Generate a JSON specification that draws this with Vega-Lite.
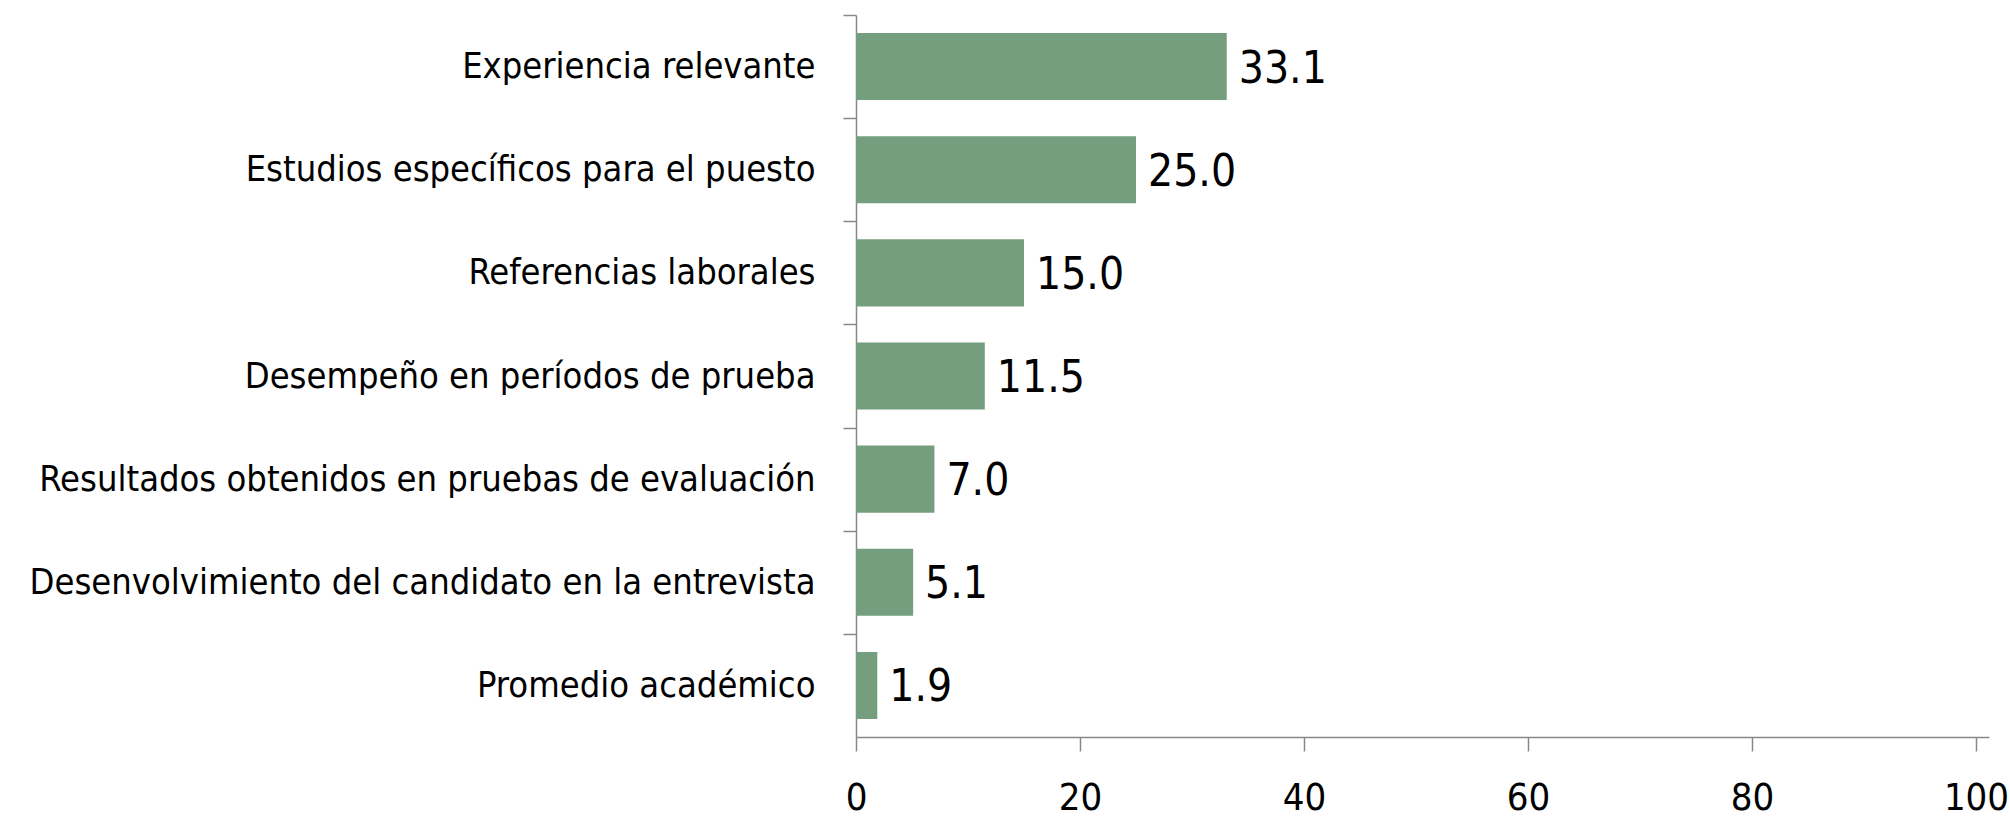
{
  "$schema": "https://vega.github.io/schema/vega-lite/v6.json",
  "autosize": "none",
  "width": 1120,
  "height": 722,
  "padding": {"left": 856, "top": 15, "right": 34, "bottom": 82},
  "background": "white",
  "config": {
    "view": {"stroke": null},
    "font": "DejaVu Sans Condensed"
  },
  "data": {
    "values": [
      {"factor": "Experiencia relevante", "pct": 33.1},
      {"factor": "Estudios específicos para el puesto", "pct": 25.0},
      {"factor": "Referencias laborales", "pct": 15.0},
      {"factor": "Desempeño en períodos de prueba", "pct": 11.5},
      {"factor": "Resultados obtenidos en pruebas de evaluación", "pct": 7.0},
      {"factor": "Desenvolvimiento del candidato en la entrevista", "pct": 5.1},
      {"factor": "Promedio académico", "pct": 1.9}
    ]
  },
  "resolve": {"axis": {"y": "independent"}},
  "layer": [
    {
      "mark": {"type": "bar", "color": "#749e7e"},
      "encoding": {
        "y": {
          "field": "factor",
          "type": "nominal",
          "sort": null,
          "title": null,
          "scale": {"paddingInner": 0.35, "paddingOuter": 0.175},
          "axis": {
            "domainColor": "#888888",
            "domainWidth": 1.5,
            "tickColor": "#888888",
            "tickWidth": 1.5,
            "tickSize": 13,
            "tickOffset": -51.57,
            "labelOffset": 51.57,
            "labelPadding": 28,
            "labelFont": "DejaVu Sans Condensed",
            "labelFontSize": 36,
            "labelColor": "#000000",
            "labelLimit": 900
          }
        },
        "x": {
          "field": "pct",
          "type": "quantitative",
          "title": null,
          "scale": {"domain": [0, 100], "nice": false},
          "axis": {
            "values": [0, 20, 40, 60, 80, 100],
            "grid": false,
            "domainColor": "#888888",
            "domainWidth": 1.5,
            "tickColor": "#888888",
            "tickWidth": 1.5,
            "tickSize": 14,
            "labelPadding": 28,
            "labelFont": "DejaVu Sans Condensed",
            "labelFontSize": 38,
            "labelColor": "#000000",
            "labelFlush": false
          }
        }
      }
    },
    {
      "mark": {"type": "text", "align": "left", "baseline": "middle", "dx": 12, "dy": 3, "fontSize": 44, "font": "DejaVu Sans Condensed", "color": "#000000"},
      "encoding": {
        "y": {
          "field": "factor",
          "type": "nominal",
          "sort": null,
          "title": null,
          "axis": {
            "values": ["Promedio académico"],
            "domain": false,
            "labels": false,
            "tickColor": "#888888",
            "tickWidth": 1.5,
            "tickSize": 13,
            "tickOffset": 51.57
          }
        },
        "x": {"field": "pct", "type": "quantitative"},
        "text": {"field": "pct", "type": "quantitative", "format": ".1f"}
      }
    }
  ]
}
